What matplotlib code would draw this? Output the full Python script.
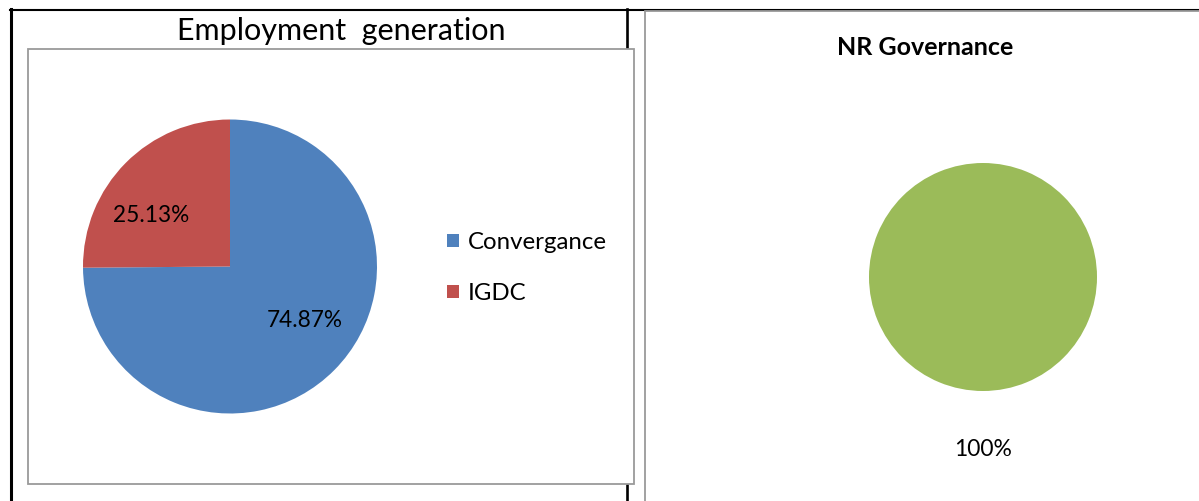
import matplotlib
matplotlib.use("Agg")
import matplotlib.pyplot as plt
from matplotlib.patches import Rectangle
from matplotlib.lines import Line2D

plt.rcParams['font.family'] = ['Lato', 'DejaVu Sans']

# ---- data ----
emp_categories = ["Convergance", "IGDC"]
emp_values = [74.87, 25.13]
emp_colors = ["#4F81BD", "#C0504D"]
emp_title = "Employment  generation"

nr_categories = ["NR Governance"]
nr_values = [100]
nr_colors = ["#9BBB59"]
nr_title = "NR Governance"

W, H = 1199, 501
fig = plt.figure(figsize=(W / 100, H / 100), dpi=100)

# overlay axes in pixel coordinates for the table frame
bg = fig.add_axes([0, 0, 1, 1], zorder=0)
bg.set_xlim(0, W)
bg.set_ylim(H, 0)
bg.axis('off')

# table lines (black)
bg.add_line(Line2D([10, W], [9.5, 9.5], color='black', lw=1.5, zorder=0.5))
bg.add_line(Line2D([10.5, 10.5], [9, H], color='black', lw=2.2, zorder=0.5))
bg.add_line(Line2D([627.3, 627.3], [9, H], color='black', lw=1.9, zorder=0.5))
# chart boxes (gray border, white fill)
bg.add_patch(Rectangle((28, 49), 606, 435, facecolor='white', edgecolor='#9a9a9a',
                       lw=1.3, zorder=1))
bg.add_patch(Rectangle((645, 11), 600, 520, facecolor='white', edgecolor='#9a9a9a',
                       lw=1.3, zorder=1))

bg.text(341.5, 31, emp_title, ha='center', va='center', fontsize=22, color='black')


def pie_axes(cx, cy, r):
    return fig.add_axes([(cx - r) / W, (H - cy - r) / H, 2 * r / W, 2 * r / H], zorder=2)


# ---- left pie ----
ax1 = pie_axes(230, 266.5, 147)
wedges1, _, autotexts1 = ax1.pie(emp_values, colors=emp_colors, startangle=90,
                                 counterclock=False, radius=1,
                                 autopct=lambda p: f"{p:.2f}%",
                                 textprops=dict(fontsize=16.3, color='black'),
                                 wedgeprops=dict(linewidth=0))
autotexts1[0].set_position((0.507, -0.367))
autotexts1[1].set_position((-0.534, 0.350))
for t in autotexts1:
    t.set_ha('center'); t.set_va('center')
ax1.set_xlim(-1, 1); ax1.set_ylim(-1, 1)
ax1.set_facecolor('none')

leg = fig.legend(wedges1, emp_categories, loc='center left',
                 bbox_to_anchor=(425 / W, 1 - 268 / H), frameon=False,
                 fontsize=17.3, handlelength=0.5, handleheight=0.5,
                 handletextpad=0.4, labelspacing=1.25)

# ---- right pie ----
ax2 = pie_axes(983, 277, 114)
wedges2, _, autotexts2 = ax2.pie(nr_values, colors=nr_colors, startangle=90,
                                 counterclock=False, radius=1,
                                 autopct=lambda p: f"{p:.0f}%",
                                 textprops=dict(fontsize=16.5, color='black'),
                                 wedgeprops=dict(linewidth=0))
autotexts2[0].set_position((0.0, -1.515))
autotexts2[0].set_ha('center'); autotexts2[0].set_va('center')
ax2.set_xlim(-1, 1); ax2.set_ylim(-1, 1)
ax2.set_facecolor('none')
for t in autotexts2:
    t.set_clip_on(False)

bg.text(925, 47, nr_title, ha='center', va='center', fontsize=18,
        fontweight='bold', color='black')

fig.savefig("out.png", dpi=100)
